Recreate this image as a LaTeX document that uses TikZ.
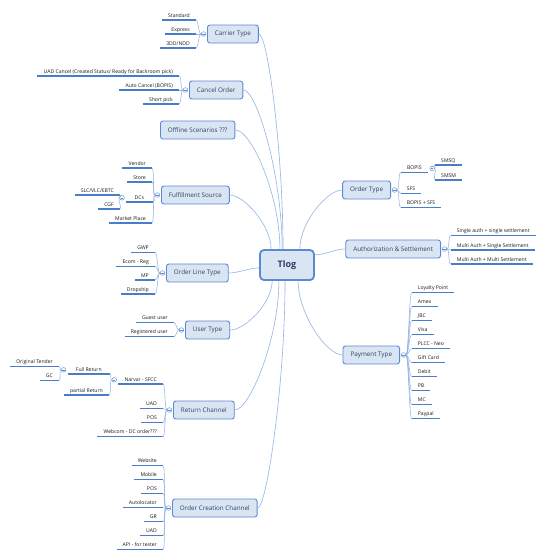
\documentclass[tikz,border=0pt]{standalone}
\usepackage{fontspec}
\setmainfont{Open Sans}
\usepackage{tikz}
\usetikzlibrary{positioning}
\definecolor{topicline}{HTML}{5B8AD3}
\definecolor{topicfill}{HTML}{DAE5F3}
\definecolor{topictext}{HTML}{2B4263}
\definecolor{branchblue}{HTML}{92B5E4}
\definecolor{leafblue}{HTML}{4A7DC8}
\tikzstyle{root}=[rectangle, rounded corners=4pt, draw=topicline, line width=1.8pt,
  fill=topicfill, text=topictext, minimum width=54pt, minimum height=30pt,
  font=\fontsize{9}{11}\selectfont\bfseries]
\tikzstyle{topic}=[rectangle, rounded corners=2.5pt, draw=topicline, line width=0.9pt,
  fill=topicfill, text=topictext, minimum height=18pt, inner xsep=7.5pt,
  font=\fontsize{6.3}{7.5}\selectfont]
\tikzstyle{uline}=[draw=leafblue, line width=1.1pt]
\tikzstyle{leaf}=[inner xsep=6pt, inner ysep=1.7pt, text height=3.7pt, text depth=0.9pt,
  text=black!90, font=\fontsize{5.1}{6}\selectfont,
  append after command={(\tikzlastnode.south west) edge[uline] (\tikzlastnode.south east)}]
\tikzstyle{leafl}=[leaf, anchor=south east]
\tikzstyle{leafr}=[leaf, anchor=south west]
\tikzstyle{knob}=[circle, draw=topicline, fill=white, line width=0.45pt, minimum size=4.6pt,
  inner sep=0pt, path picture={\draw[topicline, line width=0.4pt]
  ([xshift=1.1pt]path picture bounding box.west) -- ([xshift=-1.1pt]path picture bounding box.east);}]
\tikzstyle{branch}=[draw=branchblue, line width=0.6pt]
\tikzstyle{twig}=[draw=branchblue, line width=0.55pt]
\tikzset{twl/.style={to path={.. controls +(-2.5,0) and +(2.5,0) .. (\tikztotarget)}},
  twr/.style={to path={.. controls +(2.5,0) and +(-2.5,0) .. (\tikztotarget)}}}

\begin{document}
\begin{tikzpicture}[x=1pt, y=-1pt]
\fill[white] (0,0) rectangle (548,558);
\useasboundingbox (0,0) rectangle (548,558);
\node (tlog) [root] at (287,265) {Tlog};

% left side
\node (ct) [topic, anchor=west] at (207,34) {Carrier Type};
\node (kct) [knob, left=1pt of ct] {};
\node (std) [leafl] at (196,20) {Standard};
\node (exp) [leafl] at (196,34) {Express};
\node (ndd) [leafl] at (196,48) {3DD/NDD};
\draw[twig] (kct.west) edge[twl] (std.south east) edge[twl] (exp.south east) edge[twl] (ndd.south east);

\node (co) [topic, anchor=west] at (189,90) {Cancel Order};
\node (kco) [knob, left=1pt of co] {};
\node (uad) [leafl] at (179,76) {UAD Cancel (Created Status/ Ready for Backroom pick)};
\node (acb) [leafl] at (179,90) {Auto Cancel (BOPIS)};
\node (spk) [leafl] at (179,104) {Short pick};
\draw[twig] (kco.west) edge[twl] (uad.south east) edge[twl] (acb.south east) edge[twl] (spk.south east);

\node (os) [topic, anchor=west] at (160,130) {Offline Scenarios ???};

\node (fs) [topic, anchor=west] at (161,195) {Fulfillment Source};
\node (kfs) [knob, left=1pt of fs] {};
\node (ven) [leafl] at (152,168) {Vendor};
\node (sto) [leafl] at (152,182) {Store};
\node (dcs) [leafl, minimum width=27pt] at (153,202) {DCs};
\node (mkt) [leafl] at (152,223) {Market Place};
\draw[twig] (kfs.west) edge[twl] (ven.south east) edge[twl] (sto.south east) edge[twl] (dcs.south east) edge[twl] (mkt.south east);
\node (kdc) [knob, left=1pt of dcs] {};
\node (slc) [leafl] at (120,195) {SLC/VLC/EBTC};
\node (cgf) [leafl] at (120,209) {CGF};
\draw[twig] (kdc.west) edge[twl] (slc.south east) edge[twl] (cgf.south east);

\node (olt) [topic, anchor=west] at (166,273) {Order Line Type};
\node (kol) [knob, left=1pt of olt] {};
\node (gwp) [leafl] at (155,252.3) {GWP};
\node (ecr) [leafl] at (155,266.3) {Ecom - Reg};
\node (mp) [leafl] at (155,280) {MP};
\node (drs) [leafl] at (155,294) {Dropship};
\draw[twig] (kol.west) edge[twl] (gwp.south east) edge[twl] (ecr.south east) edge[twl] (mp.south east) edge[twl] (drs.south east);

\node (ut) [topic, anchor=west] at (185,330) {User Type};
\node (kut) [knob, left=1pt of ut] {};
\node (gus) [leafl] at (174,322.7) {Guest user};
\node (rgu) [leafl] at (174,336.7) {Registered user};
\draw[twig] (kut.west) edge[twl] (gus.south east) edge[twl] (rgu.south east);

\node (rc) [topic, anchor=west] at (173,410) {Return Channel};
\node (krc) [knob, left=1pt of rc] {};
\node (nar) [leafl, minimum width=44pt] at (163,384) {Narvar - SFCC};
\node (rua) [leafl] at (163,408.7) {UAD};
\node (rpo) [leafl] at (163,422.7) {POS};
\node (web) [leafl] at (163,436.7) {Webcom - DC order???};
\draw[twig] (krc.west) edge[twl] (nar.south east) edge[twl] (rua.south east) edge[twl] (rpo.south east) edge[twl] (web.south east);
\node (kna) [knob, left=1.5pt of nar] {};
\node (ful) [leafl, minimum width=42pt] at (110,374) {Full Return};
\node (par) [leafl] at (109,395) {partial Return};
\draw[twig] (kna.west) edge[twl] (ful.south east) edge[twl] (par.south east);
\node (kfu) [knob, left=1.5pt of ful] {};
\node (ort) [leafl] at (59,366.7) {Original Tender};
\node (gc) [leafl] at (59,380.7) {GC};
\draw[twig] (kfu.west) edge[twl] (ort.south east) edge[twl] (gc.south east);

\node (occ) [topic, anchor=west] at (172,508) {Order Creation Channel};
\node (koc) [knob, left=1pt of occ] {};
\node (wsi) [leafl] at (163,465.7) {Website};
\node (mob) [leafl] at (163,479.7) {Mobile};
\node (opo) [leafl] at (163,493.7) {POS};
\node (alo) [leafl] at (163,507.7) {Autolocator};
\node (gr) [leafl] at (163,521.7) {GR};
\node (oua) [leafl] at (163,535.7) {UAD};
\node (api) [leafl] at (163,549.7) {API - for tester};
\draw[twig] (koc.west) edge[twl] (wsi.south east) edge[twl] (mob.south east) edge[twl] (opo.south east)
  edge[twl] (alo.south east) edge[twl] (gr.south east) edge[twl] (oua.south east) edge[twl] (api.south east);

% right side
\node (ot) [topic, anchor=east] at (391,190) {Order Type};
\node (kot) [knob, right=1pt of ot] {};
\node (bop) [leafr, minimum width=27pt] at (400.7,172.7) {BOPIS};
\node (sfs) [leafr] at (400.7,193.3) {SFS};
\node (bsf) [leafr] at (400.7,207.3) {BOPIS + SFS};
\draw[twig] (kot.east) edge[twr] (bop.south west) edge[twr] (sfs.south west) edge[twr] (bsf.south west);
\node (kbo) [knob, right=1.5pt of bop] {};
\node (smq) [leafr] at (435,165) {SMSQ};
\node (smm) [leafr] at (435,180) {SMSM};
\draw[twig] (kbo.east) edge[twr] (smq.south west) edge[twr] (smm.south west);

\node (as) [topic, anchor=east] at (441,249) {Authorization \& Settlement};
\node (kas) [knob, right=1pt of as] {};
\node (sas) [leafr] at (450.7,235.7) {Single auth + single settlement};
\node (mas) [leafr] at (450.7,250) {Multi Auth + Single Settlement};
\node (mam) [leafr] at (450.7,264) {Multi Auth + Multi Settlement};
\draw[twig] (kas.east) edge[twr] (sas.south west) edge[twr] (mas.south west) edge[twr] (mam.south west);

\node (pt) [topic, anchor=east] at (400,355) {Payment Type};
\node (kpt) [knob, right=1pt of pt] {};
\node (loy) [leafr] at (411.7,292.7) {Loyalty Point};
\node (amx) [leafr] at (411.7,306.7) {Amex};
\node (jbc) [leafr] at (411.7,320.7) {JBC};
\node (vis) [leafr] at (411.7,334.7) {Visa};
\node (plc) [leafr] at (411.7,348.7) {PLCC - Neo};
\node (gcd) [leafr] at (411.7,362.7) {Gift Card};
\node (deb) [leafr] at (411.7,376.7) {Debit};
\node (pb) [leafr] at (411.7,390.7) {PB};
\node (mc) [leafr] at (411.7,404.7) {MC};
\node (ppl) [leafr] at (411.7,418.7) {Paypal};
\draw[twig] (kpt.east) edge[twr] (loy.south west) edge[twr] (amx.south west) edge[twr] (jbc.south west)
  edge[twr] (vis.south west) edge[twr] (plc.south west) edge[twr] (gcd.south west) edge[twr] (deb.south west)
  edge[twr] (pb.south west) edge[twr] (mc.south west) edge[twr] (ppl.south west);

% branches from the centre
\draw[branch] (tlog.104) .. controls +(0,-97) and +(9,0) .. (ct.east);
\draw[branch] (tlog.107) .. controls +(0,-72) and +(14,0) .. (co.east);
\draw[branch] (tlog.114) .. controls +(0,-54) and +(16,0) .. (os.east);
\draw[branch] (tlog.135) .. controls +(0,-24) and +(14,0) .. (fs.east);
\draw[branch] (tlog.186) .. controls +(-10,0) and +(10,0) .. (olt.east);
\draw[branch] (tlog.227) .. controls +(0,22) and +(15,0) .. (ut.east);
\draw[branch] (tlog.243) .. controls +(0,58) and +(15,0) .. (rc.east);
\draw[branch] (tlog.263) .. controls +(0,102) and +(9,0) .. (occ.east);
\draw[branch] (tlog.51) .. controls +(0,-27) and +(-15,0) .. (ot.west);
\draw[branch] (tlog.20) .. controls +(10,0) and +(-10,0) .. (as.west);
\draw[branch] (tlog.305) .. controls +(0,33) and +(-16,0) .. (pt.west);
\end{tikzpicture}
\end{document}
